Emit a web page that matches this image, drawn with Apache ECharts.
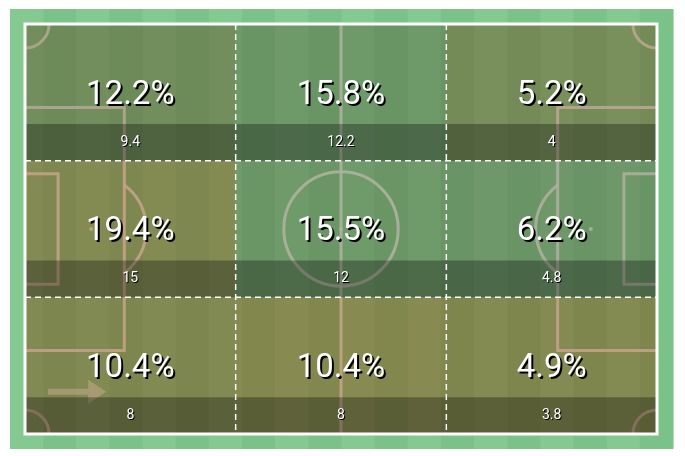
<!DOCTYPE html>
<html><head><meta charset="utf-8">
<script src="https://cdn.jsdelivr.net/npm/echarts@6/dist/echarts.min.js"></script>
<style>html,body{margin:0;padding:0;background:#fff}#chart{width:685px;height:456px}</style>
</head><body><div id="chart"></div>
<script>
// ---- data (rows top→bottom, columns left→right) ----
const zoneColumns = ['Left third', 'Middle third', 'Right third'];
const zoneRows = ['Top channel', 'Centre channel', 'Bottom channel'];
const sharePct = [
  [12.2, 15.8, 5.2],
  [19.4, 15.5, 6.2],
  [10.4, 10.4, 4.9]
];
const zoneCount = [
  [9.4, 12.2, 4],
  [15, 12, 4.8],
  [8, 8, 3.8]
];

// ---- style ----
const zoneTint = [
  ['#5d4822', '#55603c', '#6e4a20'],
  ['#82420e', '#57623e', '#555e3c'],
  ['#7e3f0a', '#8c420a', '#82400a']
];
const TINT_OPACITY = 0.46;
const STRIPE_LIGHT = '#84c98f', STRIPE_DARK = '#7bc288';
const LINE_COLOR = 'rgba(250,245,240,0.9)';
const PL = 105, PW = 68;

const cellData = [];
zoneRows.forEach((r, ri) => zoneColumns.forEach((c, ci) => {
  cellData.push([ci, ri, sharePct[ri][ci], zoneCount[ri][ci]]);
}));

function cellBox(api, col, row) {
  const w = PL / zoneColumns.length, h = PW / zoneRows.length;
  const p0 = api.coord([col * w, row * h]);
  const p1 = api.coord([(col + 1) * w, (row + 1) * h]);
  return { x0: p0[0], y0: p0[1], x1: p1[0], y1: p1[1] };
}

function renderPitch(params, api) {
  const c = (x, y) => api.coord([x, y]);
  const sx = api.size([1, 0])[0];
  const ch = [];
  const a = c(-2.5, -2.5), b = c(PL + 2.65, PW + 2.5);
  const n = 20, sw = (b[0] - a[0]) / n;
  for (let i = 0; i < n; i++) {
    ch.push({ type: 'rect', shape: { x: a[0] + i * sw, y: a[1], width: sw + 0.6, height: b[1] - a[1] },
      style: { fill: i % 2 ? STRIPE_DARK : STRIPE_LIGHT } });
  }
  const ls = { stroke: LINE_COLOR, lineWidth: 3, fill: null };
  const line = (pts) => ch.push({ type: 'polyline', shape: { points: pts.map(p => c(p[0], p[1])) }, style: ls });
  line([[PL / 2, 0], [PL / 2, PW]]);
  const pbH = 40.3 / 2, gaH = 18.3 / 2, mid = PW / 2;
  line([[0, mid - pbH], [16.5, mid - pbH], [16.5, mid + pbH], [0, mid + pbH]]);
  line([[PL, mid - pbH], [PL - 16.5, mid - pbH], [PL - 16.5, mid + pbH], [PL, mid + pbH]]);
  line([[0, mid - gaH], [5.5, mid - gaH], [5.5, mid + gaH], [0, mid + gaH]]);
  line([[PL, mid - gaH], [PL - 5.5, mid - gaH], [PL - 5.5, mid + gaH], [PL, mid + gaH]]);
  const cc = c(PL / 2, mid);
  ch.push({ type: 'circle', shape: { cx: cc[0], cy: cc[1], r: 9.5 * sx }, style: ls });
  const ang = Math.acos(5.5 / 9.15);
  const lp = c(11, mid), rp = c(PL - 11, mid);
  ch.push({ type: 'arc', shape: { cx: lp[0], cy: lp[1], r: 9.15 * sx, startAngle: -ang, endAngle: ang, clockwise: true }, style: ls });
  ch.push({ type: 'arc', shape: { cx: rp[0], cy: rp[1], r: 9.15 * sx, startAngle: Math.PI - ang, endAngle: Math.PI + ang, clockwise: true }, style: ls });
  [lp, rp, cc].forEach(p => ch.push({ type: 'circle', shape: { cx: p[0], cy: p[1], r: 2 }, style: { fill: LINE_COLOR } }));
  const cr = 4 * sx;
  [[0, 0, 0], [PL, 0, 0.5], [PL, PW, 1], [0, PW, 1.5]].forEach(k => {
    const p = c(k[0], k[1]);
    ch.push({ type: 'arc', shape: { cx: p[0], cy: p[1], r: cr, startAngle: k[2] * Math.PI, endAngle: (k[2] + 0.5) * Math.PI, clockwise: true }, style: ls });
  });
  const ay = 61.0;
  ch.push({ type: 'polygon', shape: { points: [[3.8, ay - 0.5], [10.5, ay - 0.5], [10.5, ay - 2.0], [13.5, ay], [10.5, ay + 2.0], [10.5, ay + 0.5], [3.8, ay + 0.5]].map(p => c(p[0], p[1])) },
    style: { fill: 'rgba(255,255,255,0.55)' } });
  return { type: 'group', children: ch };
}

function renderTint(params, api) {
  const col = api.value(0), row = api.value(1);
  const bx = cellBox(api, col, row);
  return { type: 'rect', shape: { x: bx.x0, y: bx.y0, width: bx.x1 - bx.x0, height: bx.y1 - bx.y0 },
    style: { fill: zoneTint[row][col], opacity: TINT_OPACITY } };
}

function renderStrip(params, api) {
  const col = api.value(0), row = api.value(1);
  const bx = cellBox(api, col, row);
  const sh = api.size([0, 6.1])[1];
  return { type: 'rect', shape: { x: bx.x0, y: bx.y1 - sh, width: bx.x1 - bx.x0, height: sh },
    style: { fill: 'rgba(0,0,0,0.3)' } };
}

function renderFrame(params, api) {
  const c = (x, y) => api.coord([x, y]);
  const ch = [];
  const dash = { stroke: '#ffffff', lineWidth: 1.5, lineDash: [6, 4], fill: null };
  for (let i = 1; i < zoneColumns.length; i++) {
    const x = PL * i / zoneColumns.length;
    ch.push({ type: 'line', shape: { x1: c(x, 0)[0], y1: c(x, 0)[1], x2: c(x, PW)[0], y2: c(x, PW)[1] }, style: dash });
  }
  for (let i = 1; i < zoneRows.length; i++) {
    const y = PW * i / zoneRows.length;
    ch.push({ type: 'line', shape: { x1: c(0, y)[0], y1: c(0, y)[1], x2: c(PL, y)[0], y2: c(PL, y)[1] }, style: dash });
  }
  const p0 = c(0, 0), p1 = c(PL, PW);
  ch.push({ type: 'rect', shape: { x: p0[0], y: p0[1], width: p1[0] - p0[0], height: p1[1] - p0[1] },
    style: { stroke: '#ffffff', lineWidth: 3, fill: null } });
  return { type: 'group', children: ch };
}

function shadowText(x, y, text, size, off) {
  const base = { text: text, fontSize: size, fontFamily: 'Roboto', align: 'center', verticalAlign: 'middle' };
  return [
    { type: 'text', x: x + off, y: y + off, style: Object.assign({}, base, { fill: '#000000' }) },
    { type: 'text', x: x, y: y, style: Object.assign({}, base, { fill: '#ffffff' }) }
  ];
}

function renderLabels(params, api) {
  const col = api.value(0), row = api.value(1);
  const pct = api.value(2), cnt = api.value(3);
  const bx = cellBox(api, col, row);
  const sh = api.size([0, 6.1])[1];
  const cx = (bx.x0 + bx.x1) / 2;
  const cy = (bx.y0 + bx.y1) / 2 + 3;
  const sy = bx.y1 - sh / 2;
  return { type: 'group', children: [].concat(
    shadowText(cx, cy, pct.toFixed(1) + '%', 33, 2),
    shadowText(cx, sy, String(cnt), 14, 1)
  ) };
}

const chart = echarts.init(document.getElementById('chart'));
chart.setOption({
  animation: false,
  grid: { left: 25, top: 24, width: 632, height: 410 },
  xAxis: { type: 'value', min: 0, max: PL, show: false },
  yAxis: { type: 'value', min: 0, max: PW, inverse: true, show: false },
  series: [
    { type: 'custom', z: 1, renderItem: renderPitch, data: [[0, 0]], silent: true },
    { type: 'custom', z: 2, renderItem: renderTint, data: cellData, silent: true },
    { type: 'custom', z: 3, renderItem: renderStrip, data: cellData, silent: true },
    { type: 'custom', z: 4, renderItem: renderFrame, data: [[0, 0]], silent: true },
    { type: 'custom', z: 5, renderItem: renderLabels, data: cellData, silent: true }
  ]
});
</script></body></html>
